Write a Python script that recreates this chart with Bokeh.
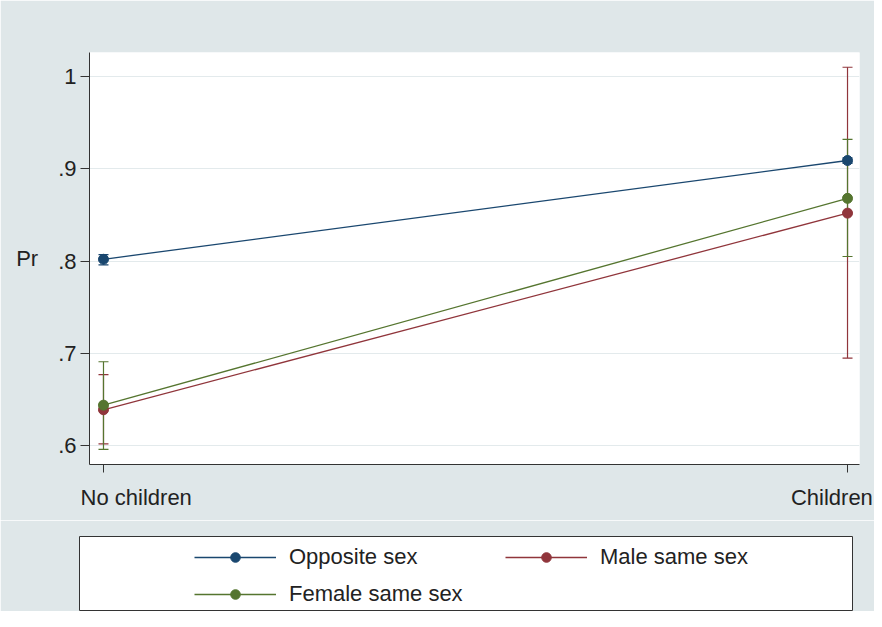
from bokeh.plotting import figure
from bokeh.models import (ColumnDataSource, FixedTicker, LinearAxis, Range1d,
                          Whisker, TeeHead, Legend, LegendItem)
from bokeh.layouts import column
from bokeh.embed import file_html
from bokeh.resources import INLINE

# ---- data ----
groups = ["No children", "Children"]
xpos = [0, 1]
opp = [0.802, 0.909]
opp_lo = [0.796, 0.906]
opp_hi = [0.807, 0.912]
male = [0.639, 0.852]
male_lo = [0.602, 0.695]
male_hi = [0.677, 1.010]
female = [0.644, 0.868]
female_lo = [0.596, 0.805]
female_hi = [0.691, 0.932]
yticks = [0.6, 0.7, 0.8, 0.9, 1.0]
ytick_labels = [".6", ".7", ".8", ".9", "1"]

series = [
    ("Opposite sex", opp, opp_lo, opp_hi, "#1a476f"),
    ("Male same sex", male, male_lo, male_hi, "#90353b"),
    ("Female same sex", female, female_lo, female_hi, "#55752f"),
]

BG = "#dfe7e9"
FONT = "Liberation Sans"
FS = "22px"
TXT = "#222222"
GRID = "#e3eaec"
AX = "#333333"

p = figure(width=874, height=520, output_backend="svg", toolbar_location=None,
           x_range=Range1d(-0.0188, 1.0161), y_range=Range1d(0.5797, 1.026),
           min_border_left=89, min_border_right=15, min_border_top=52,
           min_border_bottom=56)
p.border_fill_color = BG
p.background_fill_color = "white"
p.outline_line_color = None

# y axis
ya = p.yaxis[0]
ya.ticker = FixedTicker(ticks=yticks)
ya.major_label_overrides = {t: l for t, l in zip(yticks, ytick_labels)}
ya.major_tick_out = 9
ya.major_tick_in = 0
ya.minor_tick_line_color = None
ya.major_label_standoff = 4
ya.major_label_text_font = FONT
ya.major_label_text_font_size = FS
ya.major_label_text_color = TXT
ya.axis_line_color = AX
ya.major_tick_line_color = AX
ya.axis_label = "Pr"
ya.axis_label_orientation = "horizontal"
ya.axis_label_standoff = 17
ya.axis_label_text_font = FONT
ya.axis_label_text_font_size = FS
ya.axis_label_text_font_style = "normal"
ya.axis_label_text_color = TXT

# x axis: tick marks
xa = p.xaxis[0]
xa.ticker = FixedTicker(ticks=xpos)
xa.major_label_overrides = {x: "" for x in xpos}
xa.major_label_text_font_size = "1px"
xa.major_label_standoff = 0
xa.major_tick_out = 8
xa.major_tick_in = 0
xa.minor_tick_line_color = None
xa.axis_line_color = AX
xa.major_tick_line_color = AX

# x axis: category labels (kept inside the chart area like the original)
label_pos = [0.044, 0.979]
xb = LinearAxis(ticker=FixedTicker(ticks=label_pos),
                major_label_overrides={x: g for x, g in zip(label_pos, groups)})
xb.axis_line_color = None
xb.major_tick_line_color = None
xb.minor_tick_line_color = None
xb.major_label_standoff = 6
xb.major_label_text_font = FONT
xb.major_label_text_font_size = FS
xb.major_label_text_color = TXT
p.add_layout(xb, "below")

p.xgrid.visible = False
p.ygrid.ticker = FixedTicker(ticks=yticks)
p.ygrid.grid_line_color = GRID
p.ygrid.grid_line_width = 1

# confidence intervals
for name, vals, lo, hi, col in series:
    src = ColumnDataSource(dict(x=xpos, lower=lo, upper=hi))
    w = Whisker(base="x", lower="lower", upper="upper", source=src,
                dimension="height", line_color=col, line_width=1.2,
                upper_head=TeeHead(size=10, line_color=col, line_width=1.2),
                lower_head=TeeHead(size=10, line_color=col, line_width=1.2))
    p.add_layout(w)

for name, vals, lo, hi, col in series:
    src = ColumnDataSource(dict(x=xpos, y=vals))
    p.line("x", "y", source=src, line_color=col, line_width=1.3)
    p.scatter("x", "y", source=src, size=10, fill_color=col, line_color=col)

# ---- legend panel ----
p2 = figure(width=874, height=91, output_backend="svg", toolbar_location=None,
            x_range=Range1d(0, 1), y_range=Range1d(0, 1),
            x_axis_location=None, y_axis_location=None,
            min_border_left=79, min_border_right=22, min_border_top=16,
            min_border_bottom=1)
p2.border_fill_color = BG
p2.background_fill_color = "white"
p2.outline_line_color = "#333333"
p2.outline_line_width = 1
p2.grid.visible = False

for fig in (p, p2):
    if "frame_align" in fig.properties():
        fig.frame_align = False

items = []
nan = float("nan")
for name, vals, lo, hi, col in series:
    ksrc = ColumnDataSource(dict(x=[nan], y=[nan]))
    r1 = p2.line("x", "y", source=ksrc, line_color=col, line_width=1.3)
    r2 = p2.scatter("x", "y", source=ksrc, size=10, fill_color=col, line_color=col)
    items.append(LegendItem(label=name, renderers=[r1, r2]))

leg = Legend(items=items, location=(115, 3), orientation="horizontal", ncols=2,
             glyph_width=82, glyph_height=24, label_height=24, label_width=205,
             label_standoff=13, spacing=11, padding=0, margin=0,
             border_line_color=None, background_fill_alpha=0,
             label_text_font=FONT, label_text_font_size=FS, label_text_color=TXT)
p2.add_layout(leg, "center")

layout = column(p, p2, spacing=0)
open("out.html", "w").write(file_html(layout, INLINE))
